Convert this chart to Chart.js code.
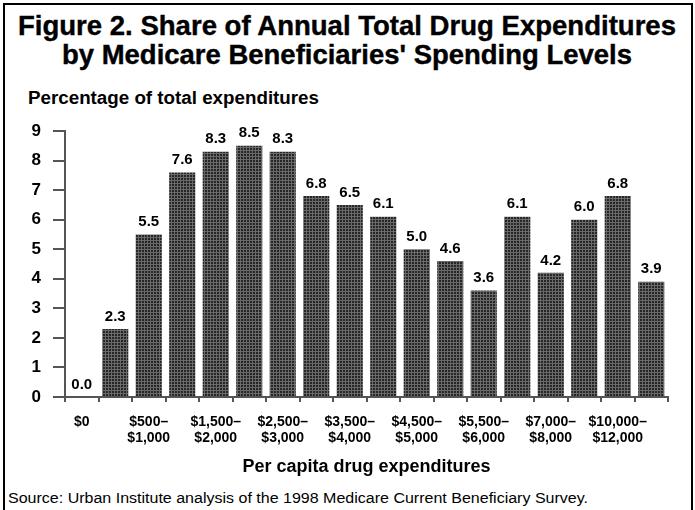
<!DOCTYPE html>
<html>
<head>
<meta charset="utf-8">
<script src="https://cdn.jsdelivr.net/npm/chart.js@4/dist/chart.umd.min.js"></script>
<style>
  html, body { margin: 0; padding: 0; background: #fff; }
  #wrap { position: relative; width: 695px; height: 510px; overflow: hidden; font-family: "Liberation Sans", Arial, sans-serif; }
  #frame { position: absolute; left: 3px; top: 3px; width: 690px; height: 520px; border: 2px solid #000; box-sizing: border-box; }
  .txt { position: absolute; white-space: nowrap; color: #000; line-height: 1; transform-origin: 0 0; }
  .title { font-weight: bold; font-size: 28px; -webkit-text-stroke: 0.4px #000; }
  #t1 { top: 12px; }
  #t2 { top: 41px; }
  #ytitle { left: 28px; top: 89px; font-weight: bold; font-size: 18px; }
  #source { left: 8px; top: 490px; font-size: 15.5px; }
  canvas { position: absolute; left: 0; top: 0; }
</style>
</head>
<body>
<div id="wrap">
  <div id="frame"></div>
  <div class="txt title" id="t1" data-w="658" data-cx="347">Figure 2. Share of Annual Total Drug Expenditures</div>
  <div class="txt title" id="t2" data-w="570" data-cx="347">by Medicare Beneficiaries' Spending Levels</div>
  <div class="txt" id="ytitle" data-w="291">Percentage of total expenditures</div>
  <div class="txt" id="source" data-w="580">Source: Urban Institute analysis of the 1998 Medicare Current Beneficiary Survey.</div>
  <canvas id="c" width="695" height="510"></canvas>
</div>
<script>
// Spending brackets (per capita drug spending, 1998)
const categories = [
  '$0', '$1–$500', '$500–$1,000', '$1,000–$1,500', '$1,500–$2,000', '$2,000–$2,500',
  '$2,500–$3,000', '$3,000–$3,500', '$3,500–$4,000', '$4,000–$4,500', '$4,500–$5,000',
  '$5,000–$5,500', '$5,500–$6,000', '$6,000–$7,000', '$7,000–$8,000', '$8,000–$10,000',
  '$10,000–$12,000', '$12,000+'
];
// Share of total expenditures, percent
const shares = [0.0, 2.3, 5.5, 7.6, 8.3, 8.5, 8.3, 6.8, 6.5, 6.1, 5.0, 4.6, 3.6, 6.1, 4.2, 6.0, 6.8, 3.9];
// Axis labels shown under every other bracket
const tickLabels = [
  ['$0'], '', ['$500–', '$1,000'], '', ['$1,500–', '$2,000'], '', ['$2,500–', '$3,000'], '',
  ['$3,500–', '$4,000'], '', ['$4,500–', '$5,000'], '', ['$5,500–', '$6,000'], '',
  ['$7,000–', '$8,000'], '', ['$10,000–', '$12,000'], ''
];
const yTicks = [0, 1, 2, 3, 4, 5, 6, 7, 8, 9];

// stretch the heading texts to their set widths
document.querySelectorAll('[data-w]').forEach(el => {
  const w = el.getBoundingClientRect().width;
  const target = +el.dataset.w;
  el.style.transform = 'scaleX(' + (target / w) + ')';
  if (el.dataset.cx) el.style.left = (+el.dataset.cx - target / 2) + 'px';
});

// cross-hatched fill for the bars
function hatch() {
  const t = document.createElement('canvas');
  t.width = 3; t.height = 3;
  const g = t.getContext('2d');
  g.fillStyle = '#262626';
  g.fillRect(0, 0, 3, 3);
  g.fillStyle = '#6a6a6a';
  g.fillRect(0, 0, 3, 1);
  g.fillRect(0, 0, 1, 3);
  return g.createPattern(t, 'repeat');
}

const FONT = '"Liberation Sans", Arial, sans-serif';

const valueLabels = {
  id: 'valueLabels',
  afterDatasetsDraw(chart) {
    const ctx = chart.ctx;
    const meta = chart.getDatasetMeta(0);
    ctx.save();
    ctx.font = 'bold 15px ' + FONT;
    ctx.fillStyle = '#000';
    ctx.textAlign = 'center';
    ctx.textBaseline = 'bottom';
    meta.data.forEach((bar, i) => {
      ctx.fillText(shares[i].toFixed(1), bar.x, bar.y - 5);
    });
    ctx.restore();
  }
};

new Chart(document.getElementById('c'), {
  type: 'bar',
  data: {
    labels: categories,
    datasets: [{
      data: shares,
      backgroundColor: hatch(),
      borderWidth: 0,
      barPercentage: 0.78,
      categoryPercentage: 1.0
    }]
  },
  options: {
    responsive: false,
    animation: false,
    events: [],
    layout: { padding: { left: 0, right: 27, top: 131, bottom: 0 } },
    plugins: { legend: { display: false }, tooltip: { enabled: false } },
    scales: {
      x: {
        grid: { display: true, drawOnChartArea: false, offset: true, tickLength: 5, color: '#555', lineWidth: 2 },
        border: { display: true, color: '#555', width: 2 },
        ticks: {
          autoSkip: false, maxRotation: 0, minRotation: 0, padding: 12,
          color: '#000', font: { family: FONT, weight: 'bold', size: 14, lineHeight: 1.15 },
          callback: (v, i) => tickLabels[i]
        },
        title: {
          display: true, text: 'Per capita drug expenditures', color: '#000',
          font: { family: FONT, weight: 'bold', size: 18 },
          padding: { top: 0, bottom: 32 }
        },
        afterFit(s) { s.height = 113; }
      },
      y: {
        min: 0, max: 9,
        afterBuildTicks(s) { s.ticks = yTicks.map(v => ({ value: v })); },
        grid: { display: true, drawOnChartArea: false, tickLength: 12, color: '#555', lineWidth: 2 },
        border: { display: true, color: '#555', width: 2 },
        ticks: {
          padding: 12, color: '#000',
          font: { family: FONT, weight: 'bold', size: 17 }
        },
        afterFit(s) { s.width = 65; }
      }
    }
  },
  plugins: [valueLabels]
});
</script>
</body>
</html>
